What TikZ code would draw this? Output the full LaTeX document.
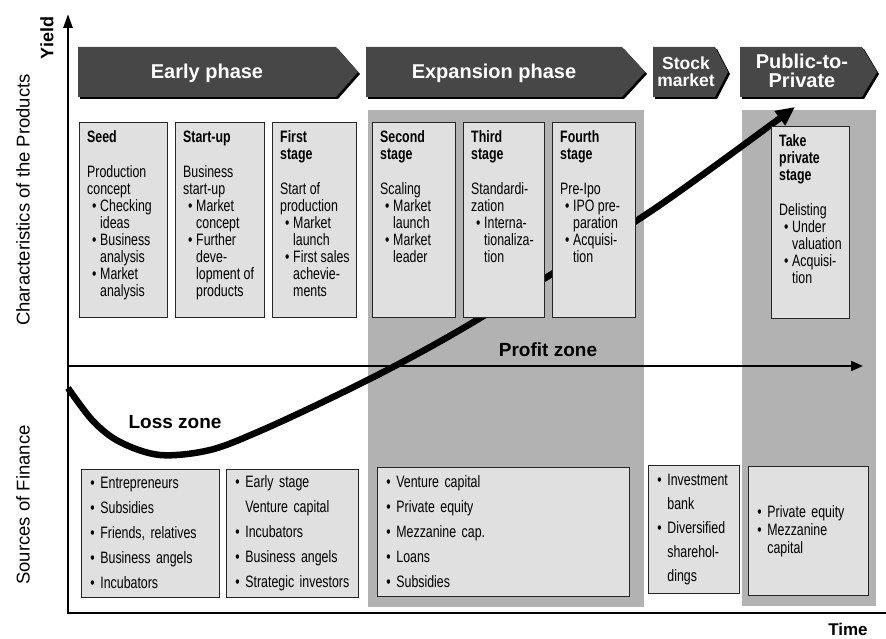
\documentclass[tikz,border=0pt]{standalone}
\usepackage{fontspec}
\setmainfont{Liberation Sans}
\newfontfamily\narrowfont[FakeStretch=0.75]{Liberation Sans}
\usetikzlibrary{arrows.meta}
\newcommand{\bitem}{\hspace*{5pt}\makebox[8pt][l]{\textbullet}}
\newcommand{\bcont}{\hspace*{13pt}}
\newcommand{\fitem}{\makebox[10pt][l]{\textbullet}}
\newcommand{\fcont}{\hspace*{10pt}}
\tikzset{
    every node/.style={align=center,},
    column/.style={fill=black!30,anchor=north west,inner sep=0pt,},
    phasearrow/.style={fill=black!72,},
    phaseshadow/.style={fill=black,},
    phaselabel/.style={text=white,font=\bfseries\fontsize{20}{19}\selectfont,},
    stagebox/.style={draw=black!85,line width=0.8pt,fill=black!12,anchor=north west,inner sep=0pt,},
    stagetext/.style={anchor=north west,align=left,inner xsep=8pt,inner ysep=8.5pt,
        font=\narrowfont\fontsize{16.5}{17}\selectfont,},
    financebox/.style={draw=black!85,line width=0.8pt,fill=black!12,anchor=north west,
        align=left,inner xsep=9pt,inner ysep=0pt,font=\narrowfont\fontsize{16.5}{25}\selectfont,},
    axistitle/.style={rotate=90,font=\fontsize{18.5}{18.5}\selectfont,},
    zonelabel/.style={font=\bfseries\fontsize{19}{19}\selectfont,},
    yieldcurve/.style={line width=6.5pt,line join=round,-{Triangle[length=19pt,width=17pt]},},
}

\begin{document}
\begin{tikzpicture}[x=1pt,y=-1pt]
    \useasboundingbox (0,0) rectangle (886,639);

    % shaded columns
    \node[column,minimum width=276pt,minimum height=497pt] (expcol) at (368,110) {};
    \node[column,minimum width=134pt,minimum height=496pt] (ptpcol) at (742,110) {};

    % phase arrows
    \foreach \l/\b/\t in {78/336/358, 366/622/645, 653/715/728, 740/862/877}{
        \fill[phaseshadow,shift={(2,2)}] (\l,47) -- (\b,47) -- (\t,72) -- (\b,97) -- (\l,97) -- cycle;
        \fill[phasearrow] (\l,47) -- (\b,47) -- (\t,72) -- (\b,97) -- (\l,97) -- cycle;
    }
    \node[phaselabel] (earlylab) at (207,73) {Early phase};
    \node[phaselabel] (explab) at (494,73) {Expansion phase};
    \node[phaselabel,font=\bfseries\fontsize{17.5}{17}\selectfont] (stocklab) at (686,72) {Stock\\market};
    \node[phaselabel] (ptplab) at (802,71) {Public-to-\\Private};

    % axes
    \coordinate (origin) at (68,613);
    \coordinate (yieldtop) at (68,14);
    \coordinate (timeend) at (886,613);
    \coordinate (zeroleft) at (68,366);
    \coordinate (zeroright) at (863,366);
    \draw[line width=2.5pt,{Triangle[length=14pt,width=9pt]}-] (yieldtop) -- (origin) -- (timeend);
    \draw[line width=2pt,-{Triangle[length=12pt,width=10pt]}] (zeroleft) -- (zeroright);

    % yield curve
    \draw[yieldcurve] plot[smooth,tension=0.55] coordinates {(68,388) (93,421) (120,442) (160,455)
        (210,450) (260,431) (327,400) (393,367) (460,330) (547,277) (660,205) (795,107)};

    % stages
    \node[stagebox,minimum width=88pt,minimum height=195pt] (seed) at (79,122) {};
    \node[stagetext] (seedtext) at (seed.north west) {\textbf{Seed}\\[18pt]
        Production\\concept\\\bitem Checking\\\bcont ideas\\\bitem Business\\\bcont analysis\\
        \bitem Market\\\bcont analysis};
    \node[stagebox,minimum width=89pt,minimum height=195pt] (startup) at (175,122) {};
    \node[stagetext] (startuptext) at (startup.north west) {\textbf{Start-up}\\[18pt]
        Business\\start-up\\\bitem Market\\\bcont concept\\\bitem Further\\\bcont deve-\\
        \bcont lopment of\\\bcont products};
    \node[stagebox,minimum width=84pt,minimum height=195pt] (first) at (272,122) {};
    \node[stagetext] (firsttext) at (first.north west) {\textbf{First}\\\textbf{stage}\\[18pt]
        Start of\\production\\\bitem Market\\\bcont launch\\\bitem First sales\\
        \bcont achevie-\\\bcont ments};
    \node[stagebox,minimum width=83pt,minimum height=195pt] (second) at (372,122) {};
    \node[stagetext] (secondtext) at (second.north west) {\textbf{Second}\\\textbf{stage}\\[18pt]
        Scaling\\\bitem Market\\\bcont launch\\\bitem Market\\\bcont leader};
    \node[stagebox,minimum width=81pt,minimum height=195pt] (third) at (463,122) {};
    \node[stagetext] (thirdtext) at (third.north west) {\textbf{Third}\\\textbf{stage}\\[18pt]
        Standardi-\\zation\\\bitem Interna-\\\bcont tionaliza-\\\bcont tion};
    \node[stagebox,minimum width=83pt,minimum height=195pt] (fourth) at (552,122) {};
    \node[stagetext] (fourthtext) at (fourth.north west) {\textbf{Fourth}\\\textbf{stage}\\[18pt]
        Pre-Ipo\\\bitem IPO pre-\\\bcont paration\\\bitem Acquisi-\\\bcont tion};
    \node[stagebox,minimum width=78pt,minimum height=192pt] (takepriv) at (771,126) {};
    \node[stagetext] (takeprivtext) at (takepriv.north west) {\textbf{Take}\\\textbf{private}\\
        \textbf{stage}\\[18pt]Delisting\\\bitem Under\\\bcont valuation\\\bitem Acquisi-\\\bcont tion};

    % sources of finance
    \node[financebox,text width=120pt,minimum height=128pt] (finearly) at (81,469) {\fitem Entrepreneurs\\
        \fitem Subsidies\\\fitem Friends, relatives\\\fitem Business angels\\\fitem Incubators};
    \node[financebox,text width=114pt,minimum height=128pt] (finstart) at (226,469) {\fitem Early stage\\
        \fcont Venture capital\\\fitem Incubators\\\fitem Business angels\\\fitem Strategic investors};
    \node[financebox,text width=234pt,minimum height=129pt] (finexp) at (377,467) {\fitem Venture capital\\
        \fitem Private equity\\\fitem Mezzanine cap.\\\fitem Loans\\\fitem Subsidies};
    \node[financebox,text width=73pt,minimum height=128pt,font=\narrowfont\fontsize{16.5}{24}\selectfont]
        (finstock) at (648,465) {\fitem Investment\\\fcont bank\\\fitem Diversified\\\fcont sharehol-\\\fcont dings};
    \node[financebox,text width=102pt,minimum height=129pt,font=\narrowfont\fontsize{16.5}{18}\selectfont]
        (finptp) at (748,466) {\fitem Private equity\\\fitem Mezzanine\\\fcont capital};

    % labels
    \node[zonelabel] (profitlab) at (548,350) {Profit zone};
    \node[zonelabel] (losslab) at (175,422) {Loss zone};
    \node[rotate=90,font=\bfseries\fontsize{18}{18}\selectfont] (yieldlab) at (47,38) {Yield};
    \node[axistitle] (charlab) at (23,200) {Characteristics of the Products};
    \node[axistitle] (sourcelab) at (23,505) {Sources of Finance};
    \node[font=\bfseries\fontsize{17}{17}\selectfont] (timelab) at (848,629) {Time};
\end{tikzpicture}
\end{document}
